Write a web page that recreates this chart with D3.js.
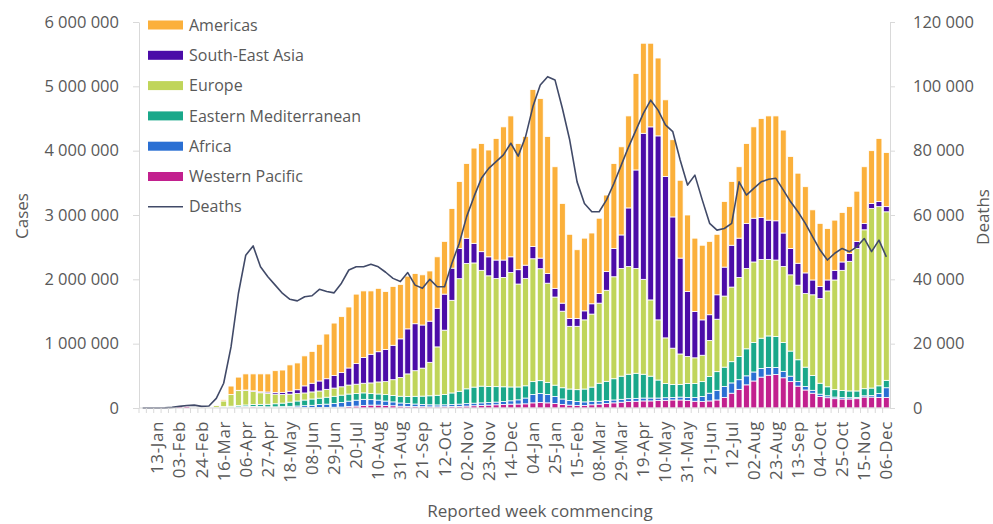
<!DOCTYPE html>
<html>
<head>
<meta charset="utf-8">
<script src="https://cdn.jsdelivr.net/npm/d3@7"></script>
<style>
  body { margin: 0; background: #fff; }
  text { font-family: "Open Sans", sans-serif; fill: #595959; }
</style>
</head>
<body>
<svg id="chart" width="993" height="524"></svg>
<script>
// weekly reported figures, in thousands, one value per week from 30-Dec-2019
var firstWeek = "2019-12-30";
var tickLabels = ["13-Jan","03-Feb","24-Feb","16-Mar","06-Apr","27-Apr","18-May","08-Jun","29-Jun","20-Jul",
  "10-Aug","31-Aug","21-Sep","12-Oct","02-Nov","23-Nov","14-Dec","04-Jan","25-Jan","15-Feb","08-Mar","29-Mar",
  "19-Apr","10-May","31-May","21-Jun","12-Jul","02-Aug","23-Aug","13-Sep","04-Oct","25-Oct","15-Nov","06-Dec"];

var westernPacific = [
  0, 0.1, 0.5, 2, 12, 20, 25, 12, 5, 4,
  4, 8, 10, 12, 15, 17, 12, 8, 6, 6,
  6, 6, 6, 7, 8, 10, 12, 15, 25, 30,
  40, 45, 45, 40, 35, 28, 25, 22, 20, 18,
  18, 20, 22, 25, 30, 35, 40, 45, 50, 55,
  60, 62, 65, 80, 85, 80, 70, 55, 45, 40,
  40, 50, 60, 70, 80, 90, 100, 105, 110, 110,
  115, 120, 125, 125, 115, 105, 100, 110, 125, 165,
  230, 290, 360, 420, 480, 510, 520, 470, 410, 340,
  280, 230, 180, 160, 145, 140, 140, 145, 170, 170,
  165, 165];
var africa = [
  0, 0, 0, 0, 0, 0, 0, 0, 0, 0.05,
  0.2, 1, 3, 6, 7, 8, 10, 10, 12, 15,
  20, 25, 30, 35, 45, 50, 60, 70, 82, 92,
  95, 85, 78, 68, 60, 50, 45, 40, 35, 32,
  30, 30, 32, 35, 38, 40, 40, 40, 42, 45,
  52, 65, 90, 130, 140, 130, 110, 85, 70, 60,
  55, 55, 45, 45, 45, 45, 45, 45, 45, 45,
  40, 40, 40, 45, 50, 60, 80, 120, 150, 170,
  160, 150, 140, 140, 135, 120, 110, 100, 85, 70,
  55, 45, 35, 30, 25, 22, 20, 20, 20, 25,
  60, 150];
var easternMed = [
  0, 0, 0, 0, 0, 0, 0, 0.1, 0.5, 3,
  7, 12, 15, 22, 25, 30, 35, 40, 48, 55,
  65, 78, 88, 98, 100, 108, 110, 115, 110, 105,
  100, 95, 95, 100, 100, 105, 110, 120, 130, 140,
  150, 160, 180, 200, 230, 250, 260, 250, 240, 230,
  215, 200, 190, 200, 200, 185, 175, 175, 180, 185,
  200, 220, 280, 300, 330, 360, 380, 390, 370, 340,
  280, 220, 200, 195, 215, 215, 230, 260, 290, 300,
  330, 360, 420, 460, 470, 490, 480, 450, 390, 340,
  300, 230, 170, 140, 115, 110, 105, 100, 110, 115,
  120, 115];
var europe = [
  0, 0, 0, 0, 0, 0, 0, 0.1, 1, 7,
  30, 90, 180, 230, 225, 200, 180, 170, 150, 135,
  125, 115, 110, 110, 112, 122, 128, 130, 140, 143,
  150, 165, 187, 202, 245, 292, 350, 398, 435, 520,
  752, 1000, 1440, 1750, 1950, 1930, 1800, 1720, 1680, 1700,
  1780, 1600, 1670, 1910, 1740, 1545, 1370, 1190, 975, 985,
  1075, 1135, 1245, 1415, 1585, 1675, 1675, 1630, 1475, 1185,
  935, 710, 565, 475, 420, 400, 410, 560, 815, 1105,
  1160, 1230, 1250, 1250, 1225, 1190, 1190, 1180, 1185, 1160,
  1145, 1255, 1315, 1490, 1705, 1868, 2015, 2215, 2470, 2790,
  2785, 2620];
var seAsia = [
  0, 0, 0, 0, 0, 0, 0, 0, 0, 0,
  0.1, 0.5, 3, 5, 8, 12, 15, 20, 25, 32,
  45, 60, 110, 135, 155, 165, 195, 220, 265, 320,
  400, 445, 470, 500, 535, 600, 700, 730, 670, 640,
  600, 560, 500, 470, 390, 305, 290, 295, 288, 270,
  243, 223, 205, 190, 165, 150, 135, 125, 120, 120,
  140, 160, 150, 290, 440, 520, 910, 1530, 2270, 2690,
  2860, 2510, 2040, 1490, 1010, 720, 550, 400, 380, 450,
  650, 610, 700, 680, 650, 610, 610, 520, 410, 340,
  320, 230, 190, 170, 150, 130, 120, 110, 100, 80,
  80, 80];
var americas = [
  0, 0, 0, 0, 0, 0, 0, 0, 0.05, 0.3,
  3, 20, 130, 205, 250, 263, 278, 282, 339, 347,
  409, 416, 466, 495, 570, 695, 815, 870, 948, 1080,
  1035, 985, 985, 900, 915, 845, 820, 780, 780, 780,
  800, 820, 926, 1040, 1162, 1480, 1680, 1660, 1890, 2070,
  2190, 1960, 2000, 2440, 2480, 2130, 1890, 1550, 1310, 1070,
  1130, 1100, 1170, 1190, 1320, 1370, 1430, 1500, 1400, 1300,
  1210, 1190, 1200, 1210, 1190, 1140, 1160, 1140, 940, 1020,
  990, 1110, 1240, 1420, 1540, 1620, 1630, 1600, 1430, 1400,
  1340, 1090, 980, 800, 780, 770, 730, 780, 880, 820,
  980, 840];
var deaths = [
  0, 0, 0, 0.05, 0.2, 0.5, 0.8, 0.9, 0.5, 0.6,
  3, 7.7, 19, 35.6, 47.5, 50.4, 43.9, 40.8, 38.2, 35.6,
  33.8, 33.3, 34.6, 34.9, 36.9, 36.2, 35.8, 38.8, 42.9, 43.9,
  43.9, 44.7, 43.9, 42.2, 40.3, 39.3, 42.1, 38.2, 37.2, 40,
  37.7, 37.7, 45, 51.2, 59.5, 65.7, 71.4, 74.5, 76.6, 78.7,
  82.3, 78.3, 84.3, 93.7, 100.4, 103, 102, 93.2, 83.3, 70.3,
  63.6, 61, 61, 64.7, 69.8, 75.5, 81.2, 86.4, 91.6, 95.7,
  92.6, 88, 85.9, 77.1, 69.3, 72.4, 64.7, 57.4, 55.3, 55.8,
  57.4, 70.3, 66.2, 68.3, 70.3, 71.1, 71.4, 67.8, 64.1, 61,
  57.4, 53.2, 49.1, 46, 48.1, 49.6, 48.6, 50.1, 52.7, 48.6,
  52.2, 47];

// stacking order is bottom to top
var regions = [
  { key: "wp", name: "Western Pacific", values: westernPacific, color: "#c2208e" },
  { key: "af", name: "Africa", values: africa, color: "#2a6fd3" },
  { key: "em", name: "Eastern Mediterranean", values: easternMed, color: "#1aa88a" },
  { key: "eu", name: "Europe", values: europe, color: "#c0d55a" },
  { key: "sea", name: "South-East Asia", values: seAsia, color: "#4b0ca8" },
  { key: "am", name: "Americas", values: americas, color: "#fbb03b" }
];
var deathsColor = "#414a68";

var svg = d3.select("#chart");
var plotLeft = 139, plotRight = 890, plotTop = 22, plotBottom = 408;

var weeks = westernPacific.map(function(d, i) {
  return d3.utcDay.offset(new Date(firstWeek), 7 * i);
});
var rows = weeks.map(function(w, i) {
  var r = { week: i };
  regions.forEach(function(reg) { r[reg.key] = reg.values[i]; });
  return r;
});

var x = d3.scaleBand()
  .domain(d3.range(weeks.length))
  .range([plotLeft, plotRight])
  .paddingInner(0.2)
  .paddingOuter(0.1);

var y = d3.scaleLinear().domain([0, 6000]).range([plotBottom, plotTop]);
var yD = d3.scaleLinear().domain([0, 120]).range([plotBottom, plotTop]);

var series = d3.stack().keys(regions.map(function(r) { return r.key; }))(rows);

svg.append("g").selectAll("g")
  .data(series).enter()
  .append("g")
  .attr("fill", function(s, i) { return regions[i].color; })
  .selectAll("rect")
  .data(function(s) { return s; }).enter()
  .append("rect")
  .attr("x", function(d, i) { return x(i); })
  .attr("y", function(d) { return y(d[1]); })
  .attr("width", x.bandwidth())
  .attr("height", function(d) { return Math.max(0, y(d[0]) - y(d[1])); })
  .attr("stroke", "#fff")
  .attr("stroke-width", 0.8);

// deaths line
var line = d3.line()
  .x(function(d, i) { return x(i) + x.bandwidth() / 2; })
  .y(function(d) { return yD(d); });

svg.append("path")
  .datum(deaths)
  .attr("d", line)
  .attr("fill", "none")
  .attr("stroke", deathsColor)
  .attr("stroke-width", 1.6)
  .attr("stroke-linejoin", "round");

// axes
var spaced = function(v) { return d3.format(",")(v * 1000).replace(/,/g, " "); };
var axisColor = "#d9d9d9";

var gl = svg.append("g")
  .attr("transform", "translate(" + plotLeft + ",0)")
  .call(d3.axisLeft(y).tickValues(d3.range(0, 6001, 1000)).tickSize(6).tickSizeOuter(0).tickPadding(14).tickFormat(spaced));

var gr = svg.append("g")
  .attr("transform", "translate(" + plotRight + ",0)")
  .call(d3.axisRight(yD).tickValues(d3.range(0, 121, 20)).tickSize(5).tickSizeOuter(0).tickPadding(18).tickFormat(spaced));

[gl, gr].forEach(function(g) {
  g.select(".domain").attr("stroke", axisColor);
  g.selectAll(".tick line").attr("stroke", axisColor);
  g.selectAll(".tick text").style("font-size", "16.5px").attr("fill", "#595959");
});

// category axis
svg.append("line")
  .attr("x1", plotLeft).attr("x2", plotRight)
  .attr("y1", plotBottom).attr("y2", plotBottom)
  .attr("stroke", axisColor);

svg.append("g").selectAll("line")
  .data(weeks).enter()
  .append("line")
  .attr("x1", function(d, i) { return x(i) - x.step() * x.paddingInner() / 2; })
  .attr("x2", function(d, i) { return x(i) - x.step() * x.paddingInner() / 2; })
  .attr("y1", plotBottom).attr("y2", plotBottom + 5)
  .attr("stroke", axisColor);

var fmt = d3.utcFormat("%d-%b");
var tickIdx = [];
var from = 0;
tickLabels.forEach(function(lbl) {
  for (var i = from; i < weeks.length; i++) {
    if (fmt(weeks[i]) === lbl) { tickIdx.push(i); from = i + 1; break; }
  }
});

svg.append("g").selectAll("text")
  .data(tickIdx).enter()
  .append("text")
  .attr("transform", function(i) { return "translate(" + (x(i) + x.bandwidth() / 2) + "," + (plotBottom + 13) + ") rotate(-90)"; })
  .attr("text-anchor", "end")
  .attr("dy", "0.35em")
  .style("font-size", "17px")
  .style("letter-spacing", "0.6px")
  .text(function(i, k) { return tickLabels[k]; });

// titles
svg.append("text")
  .attr("transform", "translate(22,216) rotate(-90)")
  .attr("text-anchor", "middle")
  .attr("dy", "0.35em")
  .style("font-size", "17px")
  .text("Cases");

svg.append("text")
  .attr("transform", "translate(983,217) rotate(-90)")
  .attr("text-anchor", "middle")
  .attr("dy", "0.35em")
  .style("font-size", "17px")
  .text("Deaths");

svg.append("text")
  .attr("x", 540).attr("y", 517)
  .attr("text-anchor", "middle")
  .style("font-size", "17px")
  .text("Reported week commencing");

// legend, top to bottom
var legendItems = regions.slice().reverse().concat([{ name: "Deaths", line: true }]);
var lg = svg.append("g").selectAll("g")
  .data(legendItems).enter()
  .append("g")
  .attr("transform", function(d, i) { return "translate(148," + (25 + i * 30.3) + ")"; });

lg.filter(function(d) { return !d.line; })
  .append("rect")
  .attr("x", 0).attr("y", -4.5)
  .attr("width", 35).attr("height", 9)
  .attr("fill", function(d) { return d.color; });

lg.filter(function(d) { return d.line; })
  .append("line")
  .attr("x1", 0).attr("x2", 35)
  .attr("stroke", deathsColor)
  .attr("stroke-width", 1.6);

lg.append("text")
  .attr("x", 41)
  .attr("dy", "0.35em")
  .style("font-size", "16px")
  .text(function(d) { return d.name; });
</script>
</body>
</html>
